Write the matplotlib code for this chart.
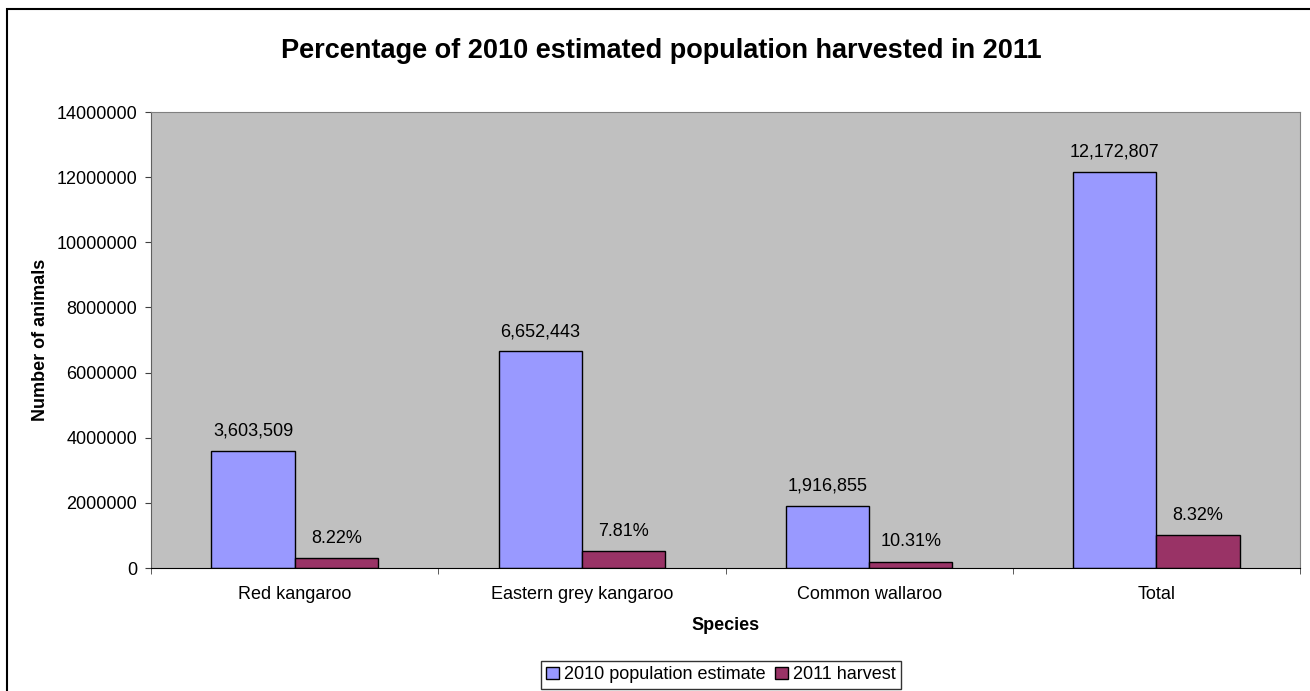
import numpy as np
import matplotlib
matplotlib.use("Agg")
import matplotlib.pyplot as plt
from matplotlib.patches import Rectangle

plt.rcParams["font.family"] = ["Liberation Sans", "DejaVu Sans"]

species = ["Red kangaroo", "Eastern grey kangaroo", "Common wallaroo", "Total"]
population_2010 = [3603509, 6652443, 1916855, 12172807]
harvest_2011 = [296000, 520000, 198000, 1013000]
harvest_pct = ["8.22%", "7.81%", "10.31%", "8.32%"]

BLUE = "#9999FF"
MAROON = "#993366"
PLOT_BG = "#C0C0C0"

fig = plt.figure(figsize=(13.1, 6.91), dpi=100)
ax = fig.add_axes([0.1153, 0.178, 0.8771, 0.6599])
ax.set_facecolor(PLOT_BG)

x = np.arange(len(species))
width = 0.29
ax.bar(x - width / 2, population_2010, width, color=BLUE, edgecolor="black",
       linewidth=1, label="2010 population estimate", zorder=3)
ax.bar(x + width / 2, harvest_2011, width, color=MAROON, edgecolor="black",
       linewidth=1, label="2011 harvest", zorder=3)

for xi, v in zip(x, population_2010):
    ax.annotate(f"{v:,}", (xi - width / 2, v), xytext=(0, 8), textcoords="offset points",
                ha="center", va="bottom", fontsize=13)
for xi, v, p in zip(x, harvest_2011, harvest_pct):
    ax.annotate(p, (xi + width / 2, v), xytext=(0, 8), textcoords="offset points",
                ha="center", va="bottom", fontsize=13)

ax.set_xlim(-0.5, len(species) - 0.5)
ax.set_ylim(0, 14000000)
ax.set_yticks(np.arange(0, 14000001, 2000000))
ax.set_yticklabels([str(int(t)) for t in np.arange(0, 14000001, 2000000)], fontsize=13)
ax.tick_params(axis="y", length=4, pad=6, color="#404040")

# category ticks sit on the group boundaries, labels in the middle
ax.set_xticks(x)
ax.set_xticklabels(species, fontsize=13)
ax.set_xticks(np.arange(-0.5, len(species)), minor=True)
ax.tick_params(axis="x", which="major", length=0, pad=13)
ax.tick_params(axis="x", which="minor", length=4, color="#404040")

for side in ["top", "right"]:
    ax.spines[side].set_color("#808080")
ax.spines["left"].set_color("#606060")
ax.spines["bottom"].set_color("black")
ax.spines["bottom"].set_zorder(4)

ax.set_ylabel("Number of animals", fontsize=13, fontweight="bold", labelpad=5)
ax.set_xlabel("Species", fontsize=13, fontweight="bold", labelpad=10)

fig.text(0.505, 1 - 51 / 691, "Percentage of 2010 estimated population harvested in 2011",
         ha="center", va="center", fontsize=19.5, fontweight="bold")

leg = fig.legend(loc="upper center", bbox_to_anchor=(721 / 1310, 1 - 661 / 691), ncol=2,
                 fontsize=13, frameon=True, fancybox=False, edgecolor="black",
                 handlelength=0.7, handleheight=0.7, handletextpad=0.3, columnspacing=0.5,
                 borderpad=0.3, borderaxespad=0)
leg.get_frame().set_linewidth(1)

# chart frame
fig.patches.append(Rectangle((7 / 1310, -0.05), 1.1, 1 - 9 / 691 + 0.05,
                             transform=fig.transFigure, fill=False,
                             edgecolor="black", linewidth=1.5))

fig.savefig("out.png", dpi=100)
